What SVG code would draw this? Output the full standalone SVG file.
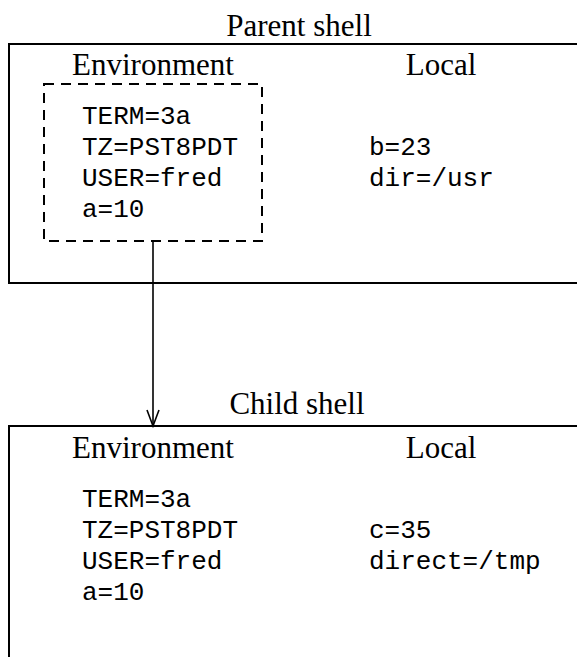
<svg xmlns="http://www.w3.org/2000/svg" width="577" height="657" viewBox="0 0 577 657">
<style>
.ttl{font-family:"Liberation Serif","Times New Roman",serif;font-size:31px;fill:#000;text-anchor:middle}
.mono{font-family:"Liberation Mono","Courier New",monospace;font-size:26px;fill:#000}
.box{fill:none;stroke:#000;stroke-width:2}
.dash{fill:none;stroke:#000;stroke-width:2;stroke-dasharray:10 7}
.conn{fill:none;stroke:#000;stroke-width:1.6}
</style>
<rect width="577" height="657" fill="#fff"/>
<g id="parent">
<text class="ttl" x="299" y="36">Parent shell</text>
<path class="box" d="M577 44 H9 V283 H577"/>
<text class="ttl" x="153" y="75">Environment</text>
<text class="ttl" x="441" y="75">Local</text>
<g id="parent-env">
<rect class="dash" x="44" y="84" width="218" height="157"/>
<text class="mono" x="82" y="124">TERM=3a</text>
<text class="mono" x="82" y="155">TZ=PST8PDT</text>
<text class="mono" x="82" y="186">USER=fred</text>
<text class="mono" x="82" y="217">a=10</text>
</g>
<text class="mono" x="369" y="155">b=23</text>
<text class="mono" x="369" y="186">dir=/usr</text>
</g>
<g id="child">
<text class="ttl" x="297" y="414">Child shell</text>
<path class="box" d="M577 426 H9 V657"/>
<text class="ttl" x="153" y="458">Environment</text>
<text class="ttl" x="441" y="458">Local</text>
<text class="mono" x="82" y="507">TERM=3a</text>
<text class="mono" x="82" y="538">TZ=PST8PDT</text>
<text class="mono" x="82" y="569">USER=fred</text>
<text class="mono" x="82" y="600">a=10</text>
<text class="mono" x="369" y="538">c=35</text>
<text class="mono" x="369" y="569">direct=/tmp</text>
</g>
<g id="connectors">
<line class="conn" x1="153" y1="241" x2="153" y2="425"/>
<path class="conn" d="M147 410 L153 426 L159 410"/>
</g>
</svg>
